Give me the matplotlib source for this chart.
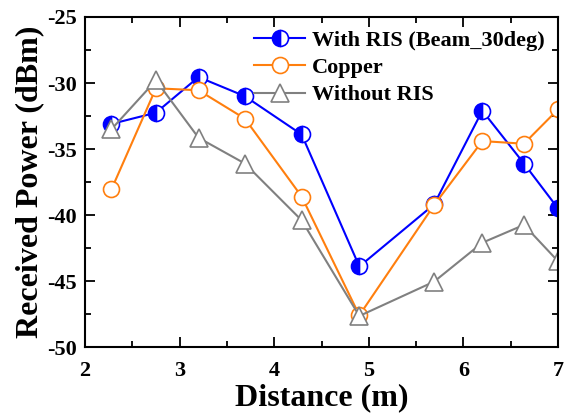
import numpy as np
import matplotlib.pyplot as plt
from matplotlib.ticker import MultipleLocator

plt.rcParams['font.family'] = 'Liberation Serif'
plt.rcParams['font.weight'] = 'bold'
plt.rcParams['axes.unicode_minus'] = False

distance = [2.28, 2.75, 3.2, 3.69, 4.29, 4.9, 5.69, 6.2, 6.64, 7.0]
with_ris = [-33.1, -32.25, -29.55, -31.0, -33.9, -43.9, -39.2, -32.1, -36.1, -39.5]
copper = [-38.05, -30.4, -30.55, -32.7, -38.6, -47.6, -39.25, -34.4, -34.6, -32.0]
without_ris = [-33.5, -29.8, -34.15, -36.1, -40.4, -47.65, -45.05, -42.1, -40.75, -43.5]

fig = plt.figure(figsize=(5.68, 4.15), dpi=100)
ax = fig.add_axes([85/568, 1 - 347/415, (558 - 85)/568, (347 - 17)/415])

ax.plot(distance, with_ris, color='#0000ff', lw=1.5, marker='o', ms=11.5,
        fillstyle='left', markerfacecoloralt='white', mec='#0000ff', mew=1.2,
        label='With RIS (Beam_30deg)')
ax.plot(distance, copper, color='#ff7f0e', lw=1.5, marker='o', ms=11.5,
        mfc='white', mec='#ff7f0e', mew=1.2, label='Copper')
ax.plot(distance, without_ris, color='#808080', lw=1.5, marker='^', ms=13,
        mfc='white', mec='#808080', mew=1.2, label='Without RIS')

ax.set_xlim(2, 7)
ax.set_ylim(-50, -25)
ax.xaxis.set_major_locator(MultipleLocator(1))
ax.xaxis.set_minor_locator(MultipleLocator(0.5))
ax.yaxis.set_major_locator(MultipleLocator(5))
ax.yaxis.set_minor_locator(MultipleLocator(2.5))
ax.tick_params(which='both', direction='in', top=True, right=True, labelsize=16, width=1.3)
ax.tick_params(which='major', length=7, pad=6)
ax.tick_params(axis='x', which='major', pad=10)
ax.tick_params(which='minor', length=4)
for sp in ax.spines.values():
    sp.set_linewidth(1.5)

ax.set_xlabel('Distance (m)', fontsize=23, fontweight='bold', labelpad=2)
ax.set_ylabel('Received Power (dBm)', fontsize=23, fontweight='bold', labelpad=2)

ax.legend(loc='upper right', frameon=False, handlelength=2.3,
          handletextpad=0.3, labelspacing=0.3, borderaxespad=0.2,
          prop={'weight': 'bold', 'size': 16})

fig.savefig('out.png', dpi=100)
